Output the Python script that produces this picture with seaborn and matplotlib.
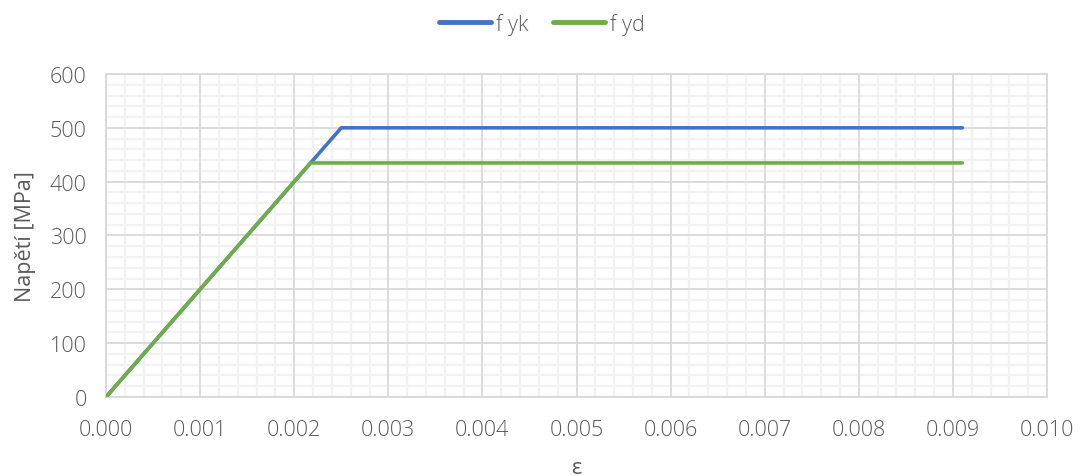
import numpy as np
import pandas as pd
import matplotlib
matplotlib.use("Agg")
import matplotlib.pyplot as plt
from matplotlib.ticker import MultipleLocator, FixedLocator, FormatStrFormatter
import seaborn as sns

# Bilinear stress-strain diagrams of reinforcing steel
strain_fyk = [0.0, 0.0025, 0.0091]
stress_fyk = [0.0, 500.0, 500.0]
strain_fyd = [0.0, 0.002174, 0.0091]
stress_fyd = [0.0, 434.78, 434.78]
series_names = ["f yk", "f yd"]
series_colors = ["#4472C4", "#70AD47"]

df = pd.concat([
    pd.DataFrame({"eps": strain_fyk, "sigma": stress_fyk, "serie": series_names[0]}),
    pd.DataFrame({"eps": strain_fyd, "sigma": stress_fyd, "serie": series_names[1]}),
])

sns.set_theme(style="white")
plt.rcParams["font.family"] = ["Open Sans", "DejaVu Sans"]
plt.rcParams["font.weight"] = "light"
text_col = "#595959"
fs = 15.5

fig = plt.figure(figsize=(10.84, 4.77), dpi=100)
ax = fig.add_axes([0.0978, 0.1656, 0.8681, 0.6772])

sns.lineplot(data=df, x="eps", y="sigma", hue="serie", palette=series_colors,
             hue_order=series_names, sort=False, estimator=None, linewidth=2.6,
             ax=ax, solid_capstyle="round", zorder=3, legend=False)

ax.set_xlim(0, 0.010)
ax.set_ylim(0, 600)
x_major = np.round(np.arange(0, 0.0101, 0.001), 4)
y_major = np.arange(0, 601, 100)
ax.xaxis.set_major_locator(FixedLocator(x_major))
ax.yaxis.set_major_locator(FixedLocator(y_major))
# minor grid every 0.0002 / 20 MPa, skipping the major positions
ax.xaxis.set_minor_locator(FixedLocator([i * 0.0002 for i in range(51) if i % 5]))
ax.yaxis.set_minor_locator(FixedLocator([i * 20 for i in range(31) if i % 5]))
ax.xaxis.set_major_formatter(FormatStrFormatter("%.3f"))

# light minor grid underneath, darker major grid drawn over it
ax.grid(which="minor", color="#F2F2F2", linewidth=1.6)
ax.grid(which="major", visible=False)
ax.set_axisbelow(True)
ax.vlines(x_major, 0, 600, colors="#D9D9D9", linewidth=1.3, zorder=1)
ax.hlines(y_major, 0, 0.010, colors="#D9D9D9", linewidth=1.3, zorder=1)
for s in ax.spines.values():
    s.set_color("#D9D9D9")
    s.set_linewidth(1.3)

ax.tick_params(axis="y", which="both", length=0, labelsize=fs, colors=text_col, pad=14)
ax.tick_params(axis="x", which="both", length=0, labelsize=fs, colors=text_col, pad=16)
ax.set_xlabel("ε", fontsize=fs, color=text_col, labelpad=12)
ax.set_ylabel("Napětí [MPa]", fontsize=fs, color=text_col, labelpad=10)

handles = [plt.Line2D([], [], color=c, linewidth=3.5, solid_capstyle="round")
           for c in series_colors]
leg = fig.legend(handles, series_names, loc="center", bbox_to_anchor=(0.5, 1 - 25 / 477),
                 ncol=2, frameon=False, fontsize=fs, handlelength=2.4,
                 handletextpad=0.25, columnspacing=1.15)
for t in leg.get_texts():
    t.set_color(text_col)

fig.savefig("out.png", dpi=100)
